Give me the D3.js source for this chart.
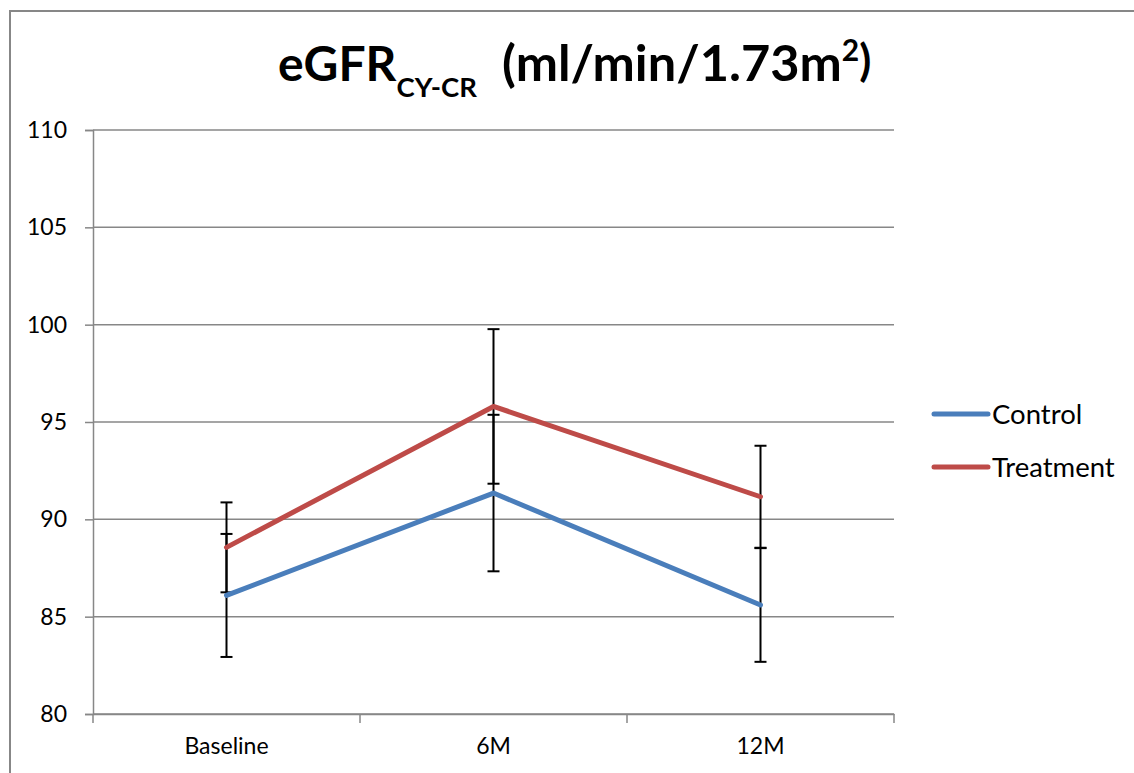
<!DOCTYPE html>
<html>
<head>
<meta charset="utf-8">
<script src="https://cdn.jsdelivr.net/npm/d3@7"></script>
<style>
  body { margin: 0; background: #fff; }
  svg { display: block; font-family: Lato, "Open Sans", sans-serif; }
</style>
</head>
<body>
<div id="chart"></div>
<script>
// values
var categories = ['Baseline', '6M', '12M']
var controlMean = [86.09, 91.35, 85.6]
var controlErr = [3.16, 4.02, 2.92]
var treatmentMean = [88.56, 95.8, 91.16]
var treatmentErr = [2.31, 3.97, 2.62]
var yTicks = [80, 85, 90, 95, 100, 105, 110]

var series = [
  {name: 'Control', values: controlMean, err: controlErr, color: '#4a7ebb'},
  {name: 'Treatment', values: treatmentMean, err: treatmentErr, color: '#be4b48'}
]

var width = 1134
var height = 773
var margin = {top: 130, right: 240, bottom: 59, left: 93}
var gridColor = '#878787'

var svg = d3.select('#chart').append('svg')
  .attr('width', width)
  .attr('height', height)

// outer chart frame (right and bottom edges fall outside the picture)
svg.append('path')
  .attr('d', 'M10,' + height + 'V11H' + width)
  .attr('fill', 'none')
  .attr('stroke', gridColor)
  .attr('stroke-width', 2)

var x = d3.scaleBand()
  .domain(categories)
  .range([margin.left, width - margin.right])
  .padding(0)

var y = d3.scaleLinear()
  .domain([80, 110])
  .range([height - margin.bottom, margin.top])

// horizontal gridlines
svg.append('g')
  .selectAll('line')
  .data(yTicks)
  .join('line')
  .attr('x1', margin.left)
  .attr('x2', width - margin.right)
  .attr('y1', function (d) { return y(d) })
  .attr('y2', function (d) { return y(d) })
  .attr('stroke', gridColor)
  .attr('stroke-width', 1.5)

// y axis
var yAxis = svg.append('g')
  .attr('transform', 'translate(' + margin.left + ',0)')
  .call(d3.axisLeft(y).tickValues(yTicks).tickSize(8).tickPadding(18).tickFormat(d3.format('d')))
yAxis.select('.domain').attr('stroke', gridColor).attr('stroke-width', 1.5)
yAxis.selectAll('.tick line').attr('stroke', gridColor).attr('stroke-width', 1.5)
yAxis.selectAll('.tick text')
  .attr('font-family', 'Lato, sans-serif')
  .attr('font-size', 23)
  .attr('fill', '#000')

// x axis, ticks sit between categories
var xAxis = svg.append('g')
  .attr('transform', 'translate(0,' + y(80) + ')')
  .call(d3.axisBottom(x).tickSize(0).tickPadding(24))
xAxis.select('.domain').attr('stroke', gridColor).attr('stroke-width', 1.5)
xAxis.selectAll('.tick text')
  .attr('font-family', 'Lato, sans-serif')
  .attr('font-size', 23)
  .attr('fill', '#000')

var bounds = categories.map(function (c) { return x(c) }).concat([x(categories[categories.length - 1]) + x.bandwidth()])
xAxis.selectAll('.sep')
  .data(bounds)
  .join('line')
  .attr('class', 'sep')
  .attr('x1', function (d) { return d })
  .attr('x2', function (d) { return d })
  .attr('y1', 0)
  .attr('y2', 9)
  .attr('stroke', gridColor)
  .attr('stroke-width', 1.5)

var cx = function (i) { return x(categories[i]) + x.bandwidth() / 2 }

// error bars
series.forEach(function (s) {
  var g = svg.append('g').attr('stroke', '#000').attr('stroke-width', 2)
  s.values.forEach(function (v, i) {
    var top = y(v + s.err[i])
    var bot = y(v - s.err[i])
    g.append('line').attr('x1', cx(i)).attr('x2', cx(i)).attr('y1', top).attr('y2', bot)
    g.append('line').attr('x1', cx(i) - 6).attr('x2', cx(i) + 6).attr('y1', top).attr('y2', top)
    g.append('line').attr('x1', cx(i) - 6).attr('x2', cx(i) + 6).attr('y1', bot).attr('y2', bot)
  })
})

// series lines
var line = d3.line()
  .x(function (d, i) { return cx(i) })
  .y(function (d) { return y(d) })

series.forEach(function (s) {
  svg.append('path')
    .attr('d', line(s.values))
    .attr('fill', 'none')
    .attr('stroke', s.color)
    .attr('stroke-width', 5)
    .attr('stroke-linecap', 'round')
    .attr('stroke-linejoin', 'round')
})

// legend
var legend = svg.append('g')
  .attr('transform', 'translate(934,414)')
var item = legend.selectAll('g')
  .data(series)
  .join('g')
  .attr('transform', function (d, i) { return 'translate(0,' + (i * 53) + ')' })
item.append('line')
  .attr('x1', 0).attr('x2', 54)
  .attr('stroke', function (d) { return d.color })
  .attr('stroke-width', 5)
  .attr('stroke-linecap', 'round')
item.append('text')
  .attr('x', 58)
  .attr('y', 9.5)
  .attr('font-size', 27.5)
  .attr('fill', '#000')
  .text(function (d) { return d.name })

// title with subscript and superscript
var title = svg.append('text')
  .attr('x', 278)
  .attr('y', 81)
  .attr('font-weight', 'bold')
  .attr('font-size', 48)
  .attr('fill', '#000')
title.append('tspan').text('eGFR')
title.append('tspan').attr('font-size', 27.5).attr('dy', 16).text('CY-CR')
title.append('tspan').attr('x', 502).attr('dy', -16).attr('font-size', 50.5).text('(ml/min/1.73m')
title.append('tspan').attr('font-size', 30).attr('dy', -20).text('2')
title.append('tspan').attr('font-size', 44).attr('dy', 15).text(')')
</script>
</body>
</html>
